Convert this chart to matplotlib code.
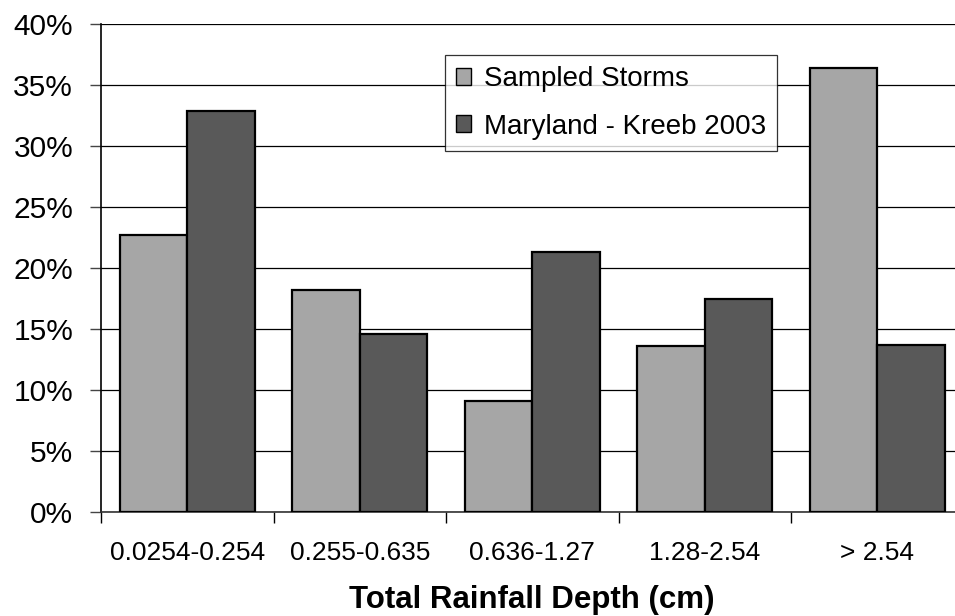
import matplotlib
matplotlib.use("Agg")
import matplotlib.pyplot as plt
import numpy as np
from matplotlib.ticker import FixedLocator, PercentFormatter

# Rainfall depth classes and share of storms in each (%)
categories = ["0.0254-0.254", "0.255-0.635", "0.636-1.27", "1.28-2.54", "> 2.54"]
sampled_storms = [22.7, 18.2, 9.1, 13.6, 36.4]
maryland_kreeb_2003 = [32.9, 14.6, 21.3, 17.5, 13.7]
series_names = ["Sampled Storms", "Maryland - Kreeb 2003"]
y_ticks = [0, 5, 10, 15, 20, 25, 30, 35, 40]

plt.rcParams["font.family"] = ["Liberation Sans", "DejaVu Sans"]

W, H = 955, 616
fig = plt.figure(figsize=(W / 100, H / 100), dpi=100)
fig.patch.set_facecolor("white")

# plot area in pixels (right edge runs slightly past the canvas)
left_px, right_px, top_px, bottom_px = 101, 963.5, 24, 512
ax = fig.add_axes([left_px / W, 1 - bottom_px / H,
                   (right_px - left_px) / W, (bottom_px - top_px) / H])

x = np.arange(len(categories))
bw = 0.39
ax.bar(x - bw / 2, sampled_storms, width=bw, color="#a6a6a6",
       edgecolor="black", linewidth=1.6, label=series_names[0], zorder=3)
ax.bar(x + bw / 2, maryland_kreeb_2003, width=bw, color="#595959",
       edgecolor="black", linewidth=1.6, label=series_names[1], zorder=3)

ax.set_xlim(-0.5, len(categories) - 0.5)
ax.set_ylim(0, 40)

ax.yaxis.set_major_locator(FixedLocator(y_ticks))
ax.yaxis.set_major_formatter(PercentFormatter(decimals=0))
ax.yaxis.grid(True, color="black", linewidth=0.9, zorder=0)
ax.set_axisbelow(True)

ax.set_xticks(x)
ax.set_xticklabels(categories)
ax.set_xticks(np.arange(len(categories) + 1) - 0.5, minor=True)
ax.tick_params(axis="x", which="major", length=0, pad=21, labelsize=19)
ax.tick_params(axis="x", which="minor", length=8, width=1, color="black",
               direction="out")
ax.tick_params(axis="y", which="major", length=8, width=1, color="#444444",
               direction="out", pad=12, labelsize=21.5)

for side in ("top", "right"):
    ax.spines[side].set_visible(False)
ax.spines["left"].set_color("black")
ax.spines["left"].set_linewidth(1.2)
ax.spines["bottom"].set_color("#333333")
ax.spines["bottom"].set_linewidth(1.2)

fig.text(532 / W, 1 - 600 / H, "Total Rainfall Depth (cm)", ha="center",
         va="center", fontsize=22.5, fontweight="bold")

leg = ax.legend(loc="upper left", bbox_to_anchor=(445 / W, 1 - 55 / H),
                bbox_transform=fig.transFigure, fontsize=20, frameon=True,
                fancybox=False, shadow=False, handlelength=0.55,
                handleheight=0.55, handletextpad=0.45, borderpad=0.4,
                labelspacing=0.77, borderaxespad=0)
leg.get_frame().set_edgecolor("black")
leg.get_frame().set_linewidth(0.9)
for h in leg.legend_handles:
    h.set_linewidth(1.0)

fig.savefig("out.png", dpi=100)
